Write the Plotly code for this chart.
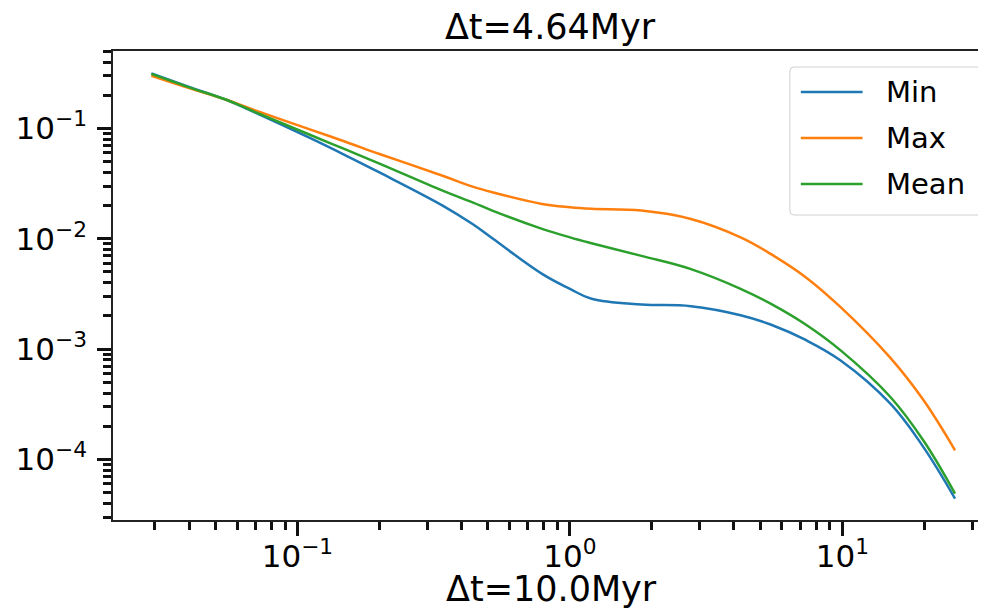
import plotly.graph_objects as go

# ---- data ----
dt = [0.0291, 0.04, 0.0551, 0.07, 0.111, 0.15, 0.2, 0.341, 0.439, 0.519, 0.79, 1.0, 1.2,
      1.83, 2.78, 4.23, 5.45, 7.33, 9.85, 15.0, 19.8, 25.9]
min_vals = [0.315, 0.238, 0.181, 0.1393, 0.082, 0.0571, 0.0399, 0.020, 0.0136, 0.0101, 0.00481,
            0.00352, 0.00286, 0.00254, 0.00245, 0.00203, 0.00167, 0.00121, 0.000789, 0.00032,
            0.00013, 4.42e-5]
max_vals = [0.30, 0.232, 0.181, 0.146, 0.098, 0.0758, 0.0587, 0.0373, 0.0297, 0.0264, 0.0207,
            0.0193, 0.0187, 0.0180, 0.0151, 0.0103, 0.0073, 0.00449, 0.00240, 0.000832,
            0.000347, 0.000121]
mean_vals = [0.312, 0.236, 0.181, 0.1406, 0.0877, 0.0645, 0.048, 0.0273, 0.0214, 0.018, 0.0123,
             0.0103, 0.00912, 0.0070, 0.00531, 0.00352, 0.00258, 0.00167, 0.000973, 0.000368,
             0.000149, 4.9e-5]
series_names = ["Min", "Max", "Mean"]
series_colors = ["#1f77b4", "#ff7f0e", "#2ca02c"]

x_tickvals = [0.1, 1, 10]
x_ticktext = ["10<sup>\u22121</sup>", "10<sup>0</sup>", "10<sup>1</sup>"]
y_tickvals = [1e-4, 1e-3, 1e-2, 1e-1]
y_ticktext = ["10<sup>\u22124</sup>", "10<sup>\u22123</sup>", "10<sup>\u22122</sup>", "10<sup>\u22121</sup>"]
x_minor = [d * 10.0 ** e for e in (-2, -1, 0, 1) for d in range(2, 10)]
y_minor = [d * 10.0 ** e for e in (-5, -4, -3, -2, -1) for d in range(2, 10)]

title_text = "\u0394t=4.64Myr"
xlabel_text = "\u0394t=10.0Myr"

# ---- layout geometry (page pixels; the page body has an 8px margin) ----
W, H = 986, 612
OFF = 8
PL, PR, PT, PB = 109, 986, 51, 520          # plot area in page pixels
L, R, T, B = PL - OFF, PR - OFF, PT - OFF, PB - OFF
FONT = "DejaVu Sans"

fig = go.Figure()
for name, color, vals in zip(series_names, series_colors, [min_vals, max_vals, mean_vals]):
    fig.add_trace(go.Scatter(x=dt, y=vals, mode="lines", name=name,
                             line=dict(color=color, width=2.5, shape="spline", smoothing=1.1),
                             showlegend=False))

axis_common = dict(showgrid=False, zeroline=False, showline=True, linecolor="#222222",
                   linewidth=1.5, ticks="outside", ticklen=14, tickwidth=3, tickcolor="#111111",
                   tickfont=dict(family=FONT, size=31, color="black"))

fig.update_xaxes(type="log", range=[-1.677, 1.527], tickmode="array", tickvals=x_tickvals,
                 ticktext=x_ticktext, mirror=True, ticklabelstandoff=-6,
                 minor=dict(tickmode="array", tickvals=x_minor, ticks="outside", ticklen=8,
                            tickwidth=2.5, tickcolor="#111111"),
                 **axis_common)
fig.update_yaxes(type="log", range=[-4.549, -0.298], tickmode="array", tickvals=y_tickvals,
                 ticktext=y_ticktext, mirror=False, ticklabelstandoff=4,
                 minor=dict(tickmode="array", tickvals=y_minor, ticks="outside", ticklen=8,
                            tickwidth=2.5, tickcolor="#111111"),
                 **axis_common)

pw, ph = R - L, B - T


def px(xp):
    return (xp - OFF - L) / pw


def py(yp):
    return 1 - (yp - OFF - T) / ph


shapes = []
annotations = []

# legend box with rounded corners (page pixel positions)
bx0, bx1, by0, by1, r = 789, 981, 67, 215, 4
path = (f"M{px(bx0 + r)},{py(by0)} L{px(bx1 - r)},{py(by0)} Q{px(bx1)},{py(by0)} {px(bx1)},{py(by0 + r)} "
        f"L{px(bx1)},{py(by1 - r)} Q{px(bx1)},{py(by1)} {px(bx1 - r)},{py(by1)} "
        f"L{px(bx0 + r)},{py(by1)} Q{px(bx0)},{py(by1)} {px(bx0)},{py(by1 - r)} "
        f"L{px(bx0)},{py(by0 + r)} Q{px(bx0)},{py(by0)} {px(bx0 + r)},{py(by0)} Z")
shapes.append(dict(type="path", xref="paper", yref="paper", path=path,
                   fillcolor="rgba(255,255,255,0.8)", line=dict(color="#d0d0d0", width=1)))
row_y = [92, 138, 184]
for name, color, ry in zip(series_names, series_colors, row_y):
    shapes.append(dict(type="line", xref="paper", yref="paper", x0=px(800), x1=px(862),
                       y0=py(ry), y1=py(ry), line=dict(color=color, width=2.5)))
    annotations.append(dict(text=name, xref="paper", yref="paper", x=px(884), y=py(ry),
                            xanchor="left", yanchor="middle", showarrow=False,
                            font=dict(family=FONT, size=29, color="black")))

annotations.append(dict(text=xlabel_text, xref="paper", yref="paper", x=px(550), y=py(589),
                        xanchor="center", yanchor="middle", showarrow=False,
                        font=dict(family=FONT, size=35, color="black")))

fig.update_layout(
    width=W, height=H, autosize=False,
    margin=dict(l=L, r=W - R, t=T, b=H - B, pad=0),
    paper_bgcolor="white", plot_bgcolor="white",
    title=dict(text=title_text, x=(550 - OFF) / W, y=1 - (27 - OFF) / H,
               xanchor="center", yanchor="middle",
               font=dict(family=FONT, size=35, color="black")),
    shapes=shapes, annotations=annotations, showlegend=False,
)

fig.write_html("out.html")
